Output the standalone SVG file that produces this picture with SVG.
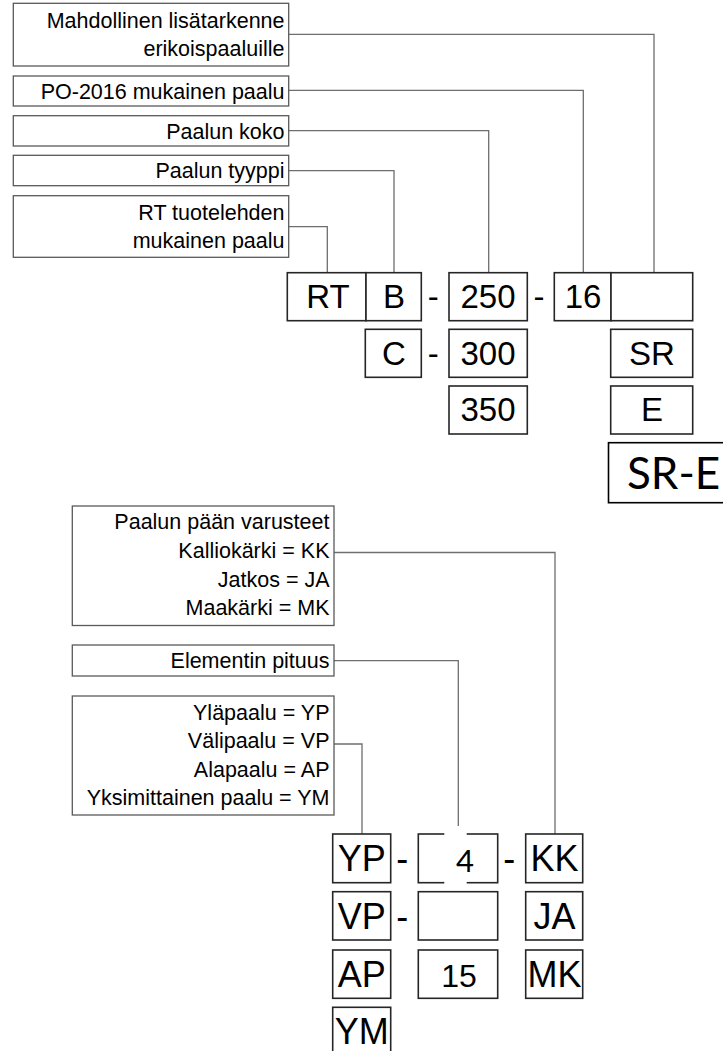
<svg xmlns="http://www.w3.org/2000/svg" width="723" height="1051" viewBox="0 0 723 1051">
<style>
.lbl{fill:#fff;stroke:#5a5a5a;stroke-width:1.3}
.box{fill:#fff;stroke:#262626;stroke-width:1.6}
.conn{fill:none;stroke:#6e6e6e;stroke-width:1.3}
.lt{font-family:"Liberation Sans",Arial,sans-serif;font-size:21.5px;fill:#000;text-anchor:end}
.bt{font-family:"Liberation Sans",Arial,sans-serif;font-size:33px;fill:#000;text-anchor:middle}
.bb{font-family:"Liberation Sans",Arial,sans-serif;font-size:36px;fill:#000;text-anchor:middle}
.cal{font-family:Lato,"Open Sans",sans-serif;fill:#000}
</style>
<rect width="723" height="1051" fill="#fff"/>
<g id="connectors">
<polyline class="conn" points="288.7,34.3 654,34.3 654,272.7"/>
<polyline class="conn" points="288.7,90.3 583.3,90.3 583.3,272.7"/>
<polyline class="conn" points="288.7,130.7 488.7,130.7 488.7,272.7"/>
<polyline class="conn" points="288.7,170.7 394,170.7 394,272.7"/>
<polyline class="conn" points="288.7,226.7 327.3,226.7 327.3,272.7"/>
<polyline class="conn" points="334,552.5 555,552.5 555,834"/>
<polyline class="conn" points="334,660.7 458.3,660.7 458.3,834"/>
<polyline class="conn" points="334,744 362,744 362,834"/>
</g>
<g id="label-lisatarkenne"><rect class="lbl" x="13.3" y="3.3" width="275.4" height="62.7"/><text class="lt" x="284.5" y="28">Mahdollinen lisätarkenne</text><text class="lt" x="284.5" y="56">erikoispaaluille</text></g>
<g id="label-po2016"><rect class="lbl" x="13.3" y="76" width="275.4" height="30"/><text class="lt" x="284.5" y="99">PO-2016 mukainen paalu</text></g>
<g id="label-koko"><rect class="lbl" x="13.3" y="115.7" width="275.4" height="30.3"/><text class="lt" x="284.5" y="138.5">Paalun koko</text></g>
<g id="label-tyyppi"><rect class="lbl" x="13.3" y="155.3" width="275.4" height="30.4"/><text class="lt" x="284.5" y="178">Paalun tyyppi</text></g>
<g id="label-rt"><rect class="lbl" x="13.3" y="195.7" width="275.4" height="61.6"/><text class="lt" x="284.5" y="220">RT tuotelehden</text><text class="lt" x="284.5" y="248.3">mukainen paalu</text></g>
<g id="box-rt"><rect class="box" x="287.3" y="272.7" width="78.7" height="48"/><text class="bt" x="328" y="308">RT</text></g>
<g id="box-b"><rect class="box" x="366" y="272.7" width="55.3" height="48"/><text class="bt" x="394" y="308">B</text></g>
<g id="dash1"><text class="bt" x="433.3" y="308">-</text></g>
<g id="box-250"><rect class="box" x="449" y="272.7" width="78.3" height="48"/><text class="bt" x="488" y="308">250</text></g>
<g id="dash2"><text class="bt" x="539" y="308">-</text></g>
<g id="box-16"><rect class="box" x="554.3" y="272.7" width="56.7" height="48"/><text class="bt" x="583" y="308">16</text></g>
<g id="box-empty"><rect class="box" x="611" y="272.7" width="81.7" height="48"/></g>
<g id="box-c"><rect class="box" x="365.3" y="329.3" width="56" height="48"/><text class="bt" x="394" y="364.6">C</text></g>
<g id="dash3"><text class="bt" x="433.3" y="364.6">-</text></g>
<g id="box-300"><rect class="box" x="449" y="329.3" width="78.3" height="48"/><text class="bt" x="488" y="364.6">300</text></g>
<g id="box-sr"><rect class="box" x="610.7" y="329.3" width="82" height="48"/><text class="bt" x="652" y="364.6">SR</text></g>
<g id="box-350"><rect class="box" x="449" y="386" width="78.3" height="48"/><text class="bt" x="488" y="421.3">350</text></g>
<g id="box-e"><rect class="box" x="610.7" y="386" width="82" height="48"/><text class="bt" x="652" y="421.3">E</text></g>
<g id="box-sre"><rect x="608.5" y="442.7" width="130" height="60" fill="#fff" stroke="#000" stroke-width="1.6"/><text class="cal" x="627" y="489" font-size="44">SR-E</text></g>
<g id="label-varusteet"><rect class="lbl" x="72.3" y="506" width="261.7" height="119.5"/><text class="lt" x="329.5" y="529">Paalun pään varusteet</text><text class="lt" x="329.5" y="557.5">Kalliokärki = KK</text><text class="lt" x="329.5" y="586.5">Jatkos = JA</text><text class="lt" x="329.5" y="615">Maakärki = MK</text></g>
<g id="label-pituus"><rect class="lbl" x="72.3" y="645" width="261.7" height="31"/><text class="lt" x="329.5" y="668.3">Elementin pituus</text></g>
<g id="label-paalu"><rect class="lbl" x="72.3" y="696" width="261.7" height="119"/><text class="lt" x="329.5" y="720">Yläpaalu = YP</text><text class="lt" x="329.5" y="748.3">Välipaalu = VP</text><text class="lt" x="329.5" y="776.7">Alapaalu = AP</text><text class="lt" x="329.5" y="805">Yksimittainen paalu = YM</text></g>
<g id="box-yp"><rect class="box" x="332.7" y="834" width="58" height="48.7"/><text class="bb" x="361.7" y="871">YP</text></g>
<g id="dash4"><text class="bb" x="402.3" y="871">-</text></g>
<g id="box-4"><rect class="box" x="418.3" y="834" width="79.4" height="48.7"/><rect x="444.3" y="826" width="22.4" height="64.7" fill="#fff"/><text class="cal" x="465" y="872" font-size="31" text-anchor="middle">4</text></g>
<g id="dash5"><text class="bb" x="509.3" y="871">-</text></g>
<g id="box-kk"><rect class="box" x="525.7" y="834" width="57" height="48.7"/><text class="bb" x="554.5" y="871">KK</text></g>
<g id="box-vp"><rect class="box" x="332.7" y="891.7" width="58" height="48.3"/><text class="bb" x="361.7" y="928.7">VP</text></g>
<g id="dash6"><text class="bb" x="402.3" y="928.7">-</text></g>
<g id="box-empty2"><rect class="box" x="418.3" y="891.7" width="79.4" height="48.3"/></g>
<g id="box-ja"><rect class="box" x="525.7" y="891.7" width="57" height="48.3"/><text class="bb" x="554.5" y="928.7">JA</text></g>
<g id="box-ap"><rect class="box" x="332.7" y="950" width="58" height="48.3"/><text class="bb" x="361.7" y="986.5">AP</text></g>
<g id="box-15"><rect class="box" x="418.3" y="950" width="79.4" height="48.3"/><text class="bt" x="459" y="986.7" style="font-size:32px">15</text></g>
<g id="box-mk"><rect class="box" x="525.7" y="950" width="57" height="48.3"/><text class="bb" x="554.5" y="986.5">MK</text></g>
<g id="box-ym"><rect class="box" x="332.7" y="1007.3" width="58" height="60"/><text class="bb" x="361.7" y="1044">YM</text></g>
</svg>
